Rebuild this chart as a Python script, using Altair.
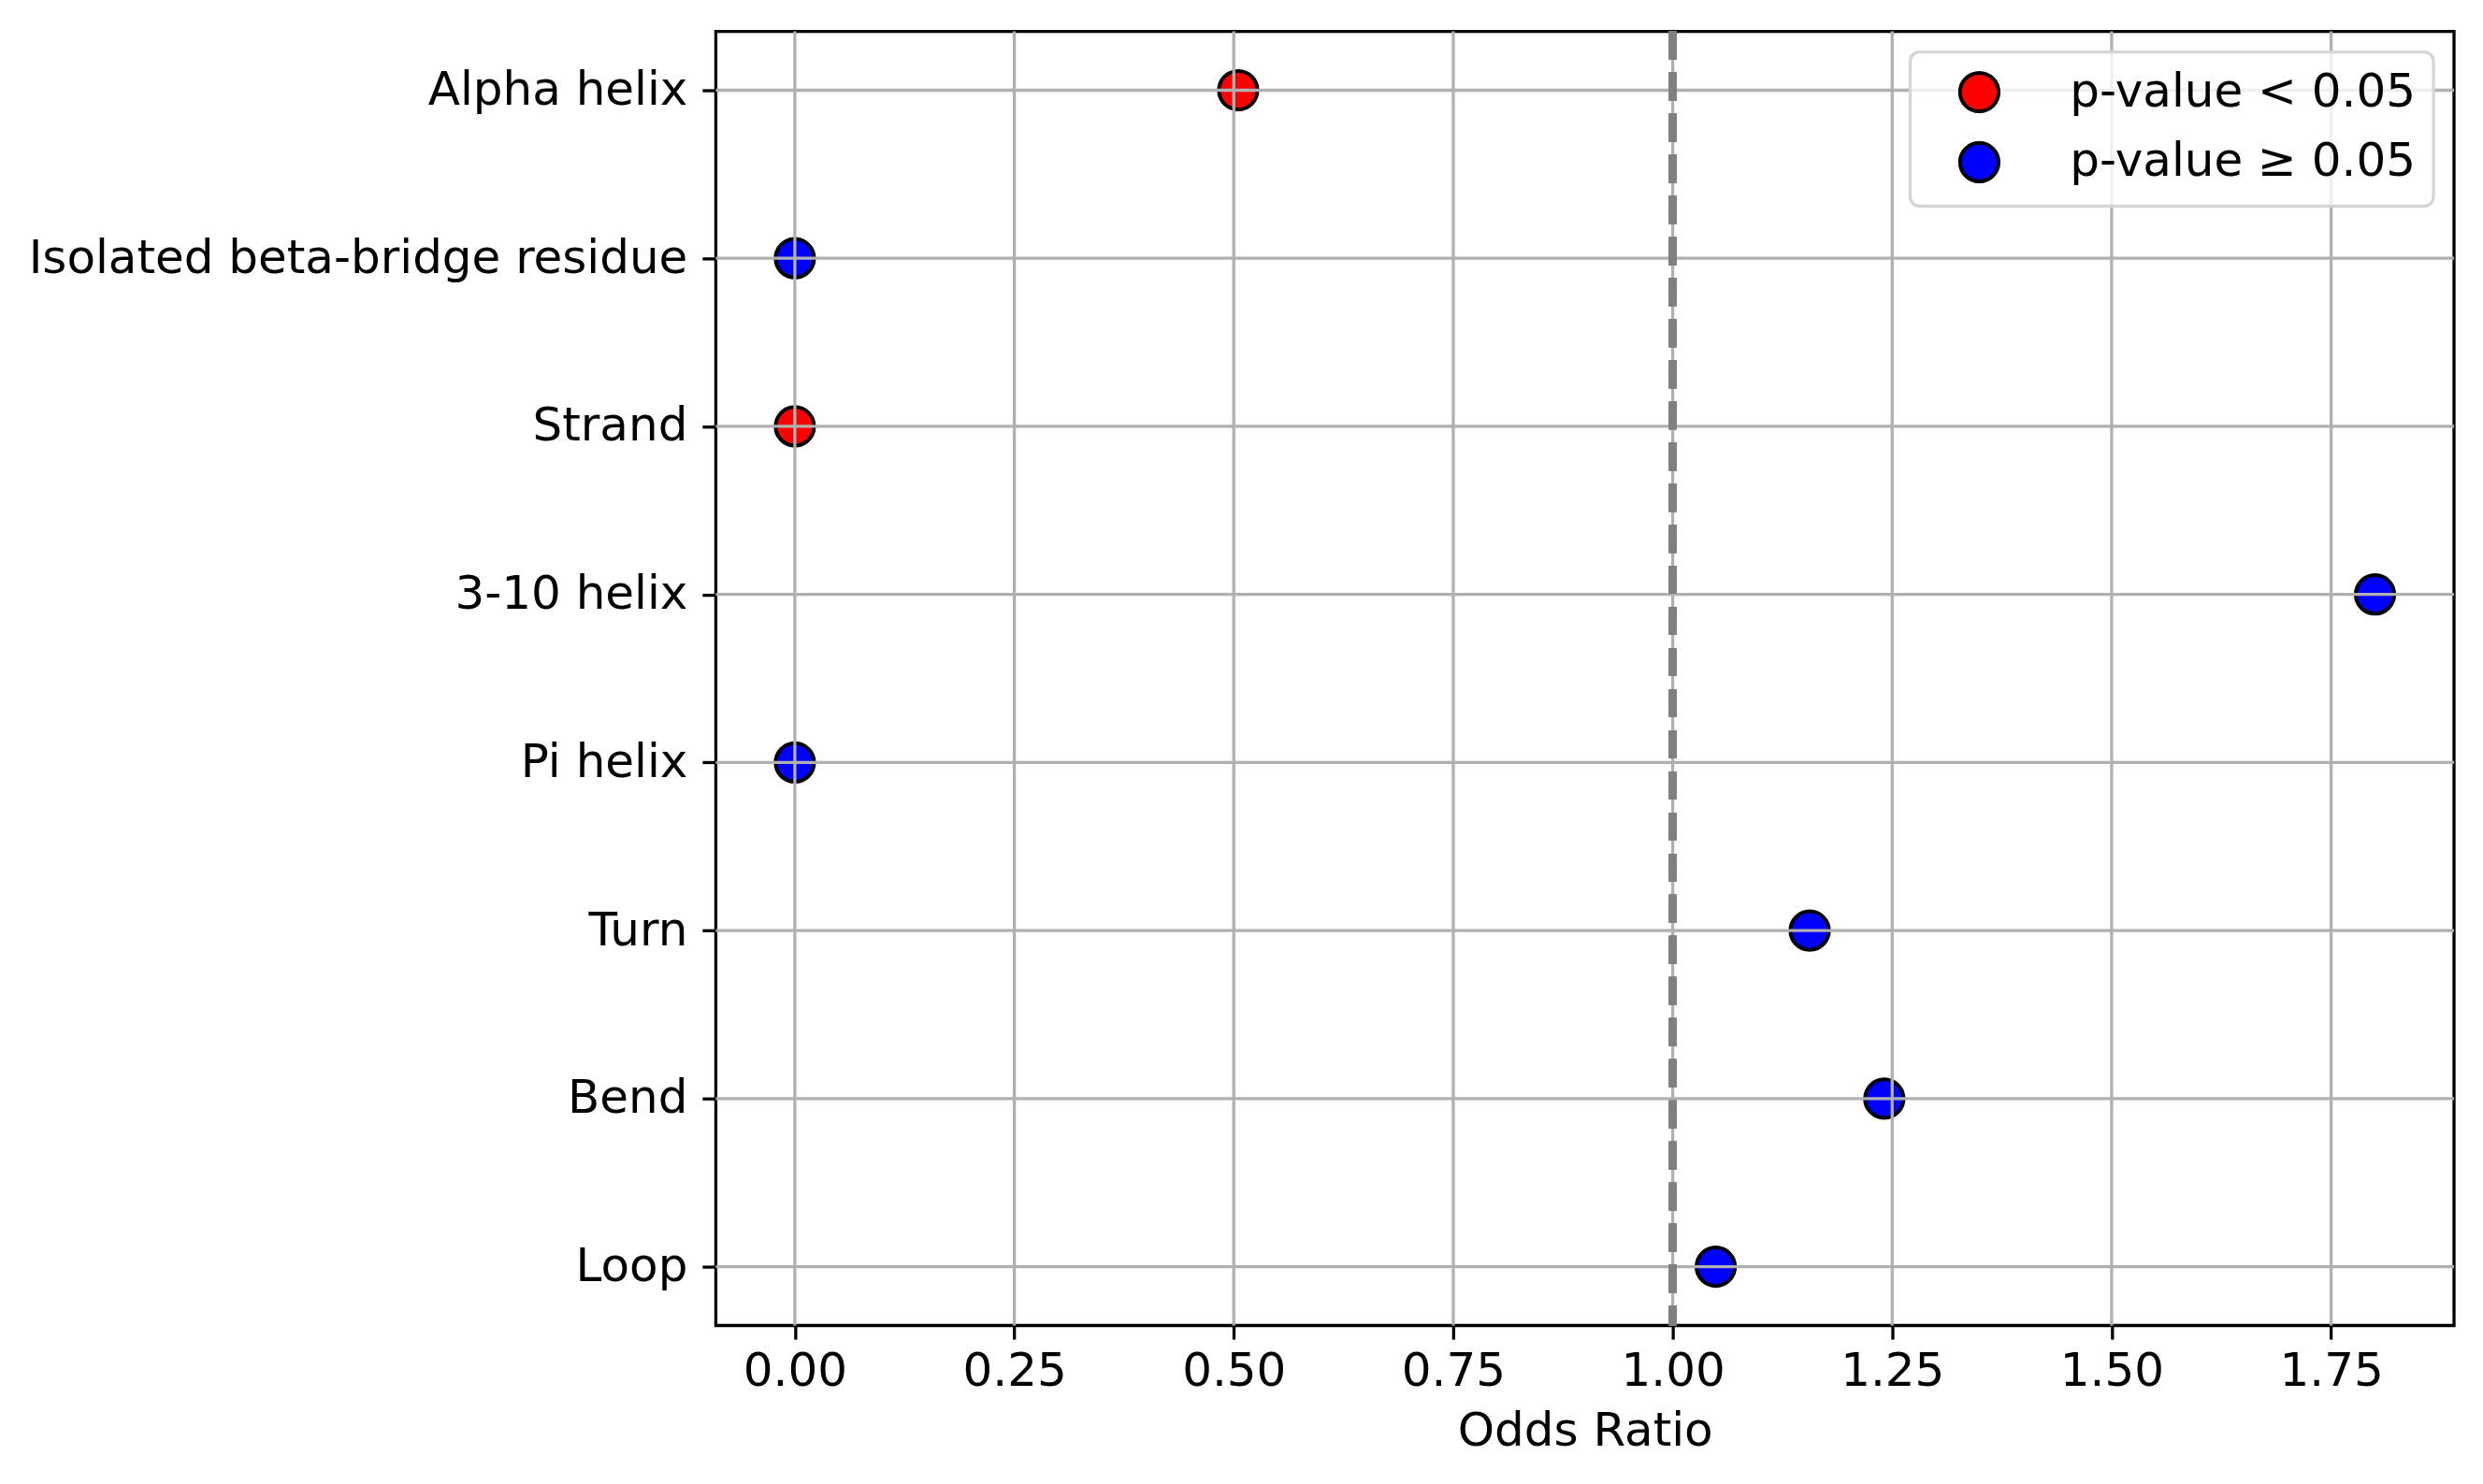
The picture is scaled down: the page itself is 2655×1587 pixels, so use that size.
import altair as alt
import pandas as pd

categories = ["Alpha helix", "Isolated beta-bridge residue", "Strand", "3-10 helix",
              "Pi helix", "Turn", "Bend", "Loop"]
odds_ratios = [0.505, 0.0, 0.0, 1.80, 0.0, 1.156, 1.241, 1.049]
significance = ["p-value < 0.05", "p-value ≥ 0.05", "p-value < 0.05", "p-value ≥ 0.05",
                "p-value ≥ 0.05", "p-value ≥ 0.05", "p-value ≥ 0.05", "p-value ≥ 0.05"]
legend_labels = ["p-value < 0.05", "p-value ≥ 0.05"]
legend_colors = ["#ff0000", "#0000ff"]
x_ticks = [0.0, 0.25, 0.5, 0.75, 1.0, 1.25, 1.5, 1.75]
x_domain = [-0.09, 1.89]
reference_value = 1.0

df = pd.DataFrame({"category": categories, "odds": odds_ratios, "sig": significance})
ticks_df = pd.DataFrame({"odds": x_ticks})
cats_df = pd.DataFrame({"category": categories})

GRID = "#b0b0b0"
LW = 3.3
y_scale = alt.Scale(type="point", padding=0.35)

x_enc = alt.X("odds:Q", title="Odds Ratio",
              scale=alt.Scale(domain=x_domain, nice=False, zero=False),
              axis=alt.Axis(values=x_ticks, format=".2f", grid=False, domain=False,
                            tickSize=14.6, tickWidth=LW, tickColor="black",
                            labelPadding=9, titlePadding=14))
y_enc = alt.Y("category:N", title=None, sort=categories, scale=y_scale,
              axis=alt.Axis(grid=False, domain=False, tickSize=14.6, tickWidth=LW,
                            tickColor="black", labelPadding=16, labelLimit=2000))

points = alt.Chart(df).mark_circle(size=1700, stroke="black", strokeWidth=4, opacity=1).encode(
    x=x_enc,
    y=y_enc,
    color=alt.Color("sig:N", title=None,
                    scale=alt.Scale(domain=legend_labels, range=legend_colors),
                    legend=alt.Legend(orient="top-right", labelLimit=2000)),
)

xgrid = alt.Chart(ticks_df).mark_rule(color=GRID, strokeWidth=LW).encode(x="odds:Q")
ygrid = alt.Chart(cats_df).mark_rule(color=GRID, strokeWidth=LW).encode(
    y=alt.Y("category:N", sort=categories, scale=y_scale))
ref = alt.Chart(df).mark_rule(color="#808080", strokeWidth=8, strokeDash=[30, 14]).encode(
    x=alt.datum(reference_value))

chart = alt.layer(points, xgrid, ygrid, ref).properties(
    width=1860, height=1385,
    padding={"left": 22, "top": 21, "right": 21, "bottom": 10},
).configure(font="DejaVu Sans").configure_view(
    stroke="black", strokeWidth=LW
).configure_axis(
    labelFontSize=50, titleFontSize=50, titleFontWeight="normal",
    labelColor="black", titleColor="black", labelLimit=2000,
).configure_legend(
    offset=22, padding=18, strokeColor="#d5d5d5", strokeWidth=LW, cornerRadius=10,
    fillColor="rgba(255,255,255,0.8)", labelFontSize=50, labelOffset=72, rowPadding=17,
    symbolOffset=31, symbolSize=1700, symbolType="circle", symbolStrokeColor="black",
    symbolStrokeWidth=4, symbolOpacity=1, labelColor="black", labelLimit=2000,
)

chart.save("out.html", embed_options={"renderer": "svg", "actions": False})
